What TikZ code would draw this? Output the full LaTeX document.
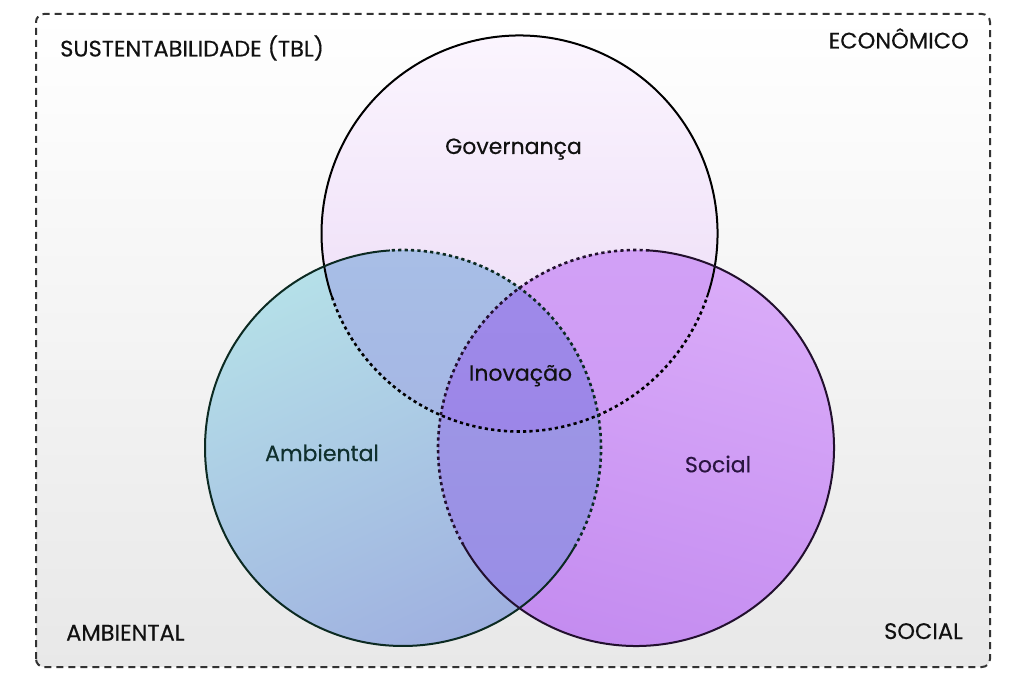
\documentclass[tikz,border=0pt]{standalone}
\usepackage{fontspec}
\setmainfont{Poppins}[FakeBold=0.35]
\definecolor{frameC}{HTML}{333333}
\definecolor{topA}{HTML}{FBF5FE}
\definecolor{topB}{HTML}{E9D6F5}
\definecolor{leftA}{HTML}{B5E0E8}
\definecolor{leftB}{HTML}{9FB0E0}
\definecolor{rightA}{HTML}{DAACF9}
\definecolor{rightB}{HTML}{C48CF0}
\definecolor{ltA}{HTML}{ABC8E8}
\definecolor{ltB}{HTML}{A5B6E4}
\definecolor{rtA}{HTML}{D5A8F8}
\definecolor{rtB}{HTML}{CE9AF4}
\definecolor{lrA}{HTML}{A09CE4}
\definecolor{lrB}{HTML}{988CE6}
\definecolor{cA}{HTML}{A290EA}
\definecolor{cB}{HTML}{9C86E8}
\definecolor{leftLine}{HTML}{0C2A22}
\definecolor{rightLine}{HTML}{22102E}
\definecolor{ambTxt}{HTML}{10302E}
\definecolor{socTxt}{HTML}{2A1440}
\definecolor{txt}{HTML}{111111}
\tikzset{
  frameline/.style={draw=frameC, line width=2pt, dash pattern=on 7pt off 5pt, rounded corners=8pt},
  solidarc/.style={line width=2pt},
  dotarc/.style={line width=2.6pt, dash pattern=on 3.2pt off 3.2pt},
  cornerlbl/.style={font=\fontsize{22.5}{26}\selectfont, text=txt, inner sep=0pt},
  innerlbl/.style={font=\fontsize{22}{26}\selectfont, inner sep=0pt},
}
\begin{document}
\begin{tikzpicture}[x=1pt,y=1pt]
\useasboundingbox (0,0) rectangle (1024,681);
\fill[white] (0,0) rectangle (1024,681);
% frame
\shade[top color=white, bottom color=black!9, rounded corners=8pt] (36,14) rectangle (990,667);
\draw[frameline] (36,14) rectangle (990,667);
% centres
\coordinate (T) at (519.5,447.5);
\coordinate (L) at (403,233);
\coordinate (R) at (636,233);
\def\rr{198}
% fills
\shade[top color=topA, bottom color=topB] (T) circle[radius=\rr];
\shade[top color=leftA, bottom color=leftB, shading angle=25] (L) circle[radius=\rr];
\shade[top color=rightA, bottom color=rightB, shading angle=-15] (R) circle[radius=\rr];
\begin{scope}
  \clip (L) circle[radius=\rr];
  \shade[top color=ltA, bottom color=ltB] (T) circle[radius=\rr];
\end{scope}
\begin{scope}
  \clip (R) circle[radius=\rr];
  \shade[top color=rtA, bottom color=rtB] (T) circle[radius=\rr];
\end{scope}
\begin{scope}
  \clip (L) circle[radius=\rr];
  \shade[top color=lrA, bottom color=lrB] (R) circle[radius=\rr];
\end{scope}
\begin{scope}
  \clip (L) circle[radius=\rr];
  \clip (R) circle[radius=\rr];
  \shade[top color=cA, bottom color=cB] (T) circle[radius=\rr];
\end{scope}
% outlines
\draw[dotarc, black] (T) ++(198.8:\rr) arc[start angle=198.8, end angle=341.2, radius=\rr];
\draw[dotarc, leftLine] (L) ++(-29.9:\rr) arc[start angle=-29.9, end angle=93.8, radius=\rr];
\draw[dotarc, rightLine] (R) ++(86.2:\rr) arc[start angle=86.2, end angle=209.3, radius=\rr];
\draw[solidarc, black] (T) ++(-18.8:\rr) arc[start angle=-18.8, end angle=198.8, radius=\rr];
\draw[solidarc, leftLine] (L) ++(93.8:\rr) arc[start angle=93.8, end angle=330.1, radius=\rr];
\draw[solidarc, rightLine] (R) ++(-150.7:\rr) arc[start angle=-150.7, end angle=86.2, radius=\rr];
% labels
\node[cornerlbl, anchor=base west] (tbl) at (60,624.5) {SUSTENTABILIDADE (TBL)};
\node[cornerlbl, anchor=base east] (eco) at (969,632.5) {ECONÔMICO};
\node[cornerlbl, anchor=base west] (amb) at (66,40.5) {AMBIENTAL};
\node[cornerlbl, anchor=base east] (soc) at (963,42) {SOCIAL};
\node[innerlbl, text=txt, anchor=base] (gov) at (513.5,527) {Governança};
\node[innerlbl, text=txt, anchor=base] (ino) at (520.5,300.3) {Inovação};
\node[innerlbl, text=ambTxt, anchor=base] (ambi) at (322,220) {Ambiental};
\node[innerlbl, text=socTxt, anchor=base] (soci) at (718,208.7) {Social};
\end{tikzpicture}
\end{document}
